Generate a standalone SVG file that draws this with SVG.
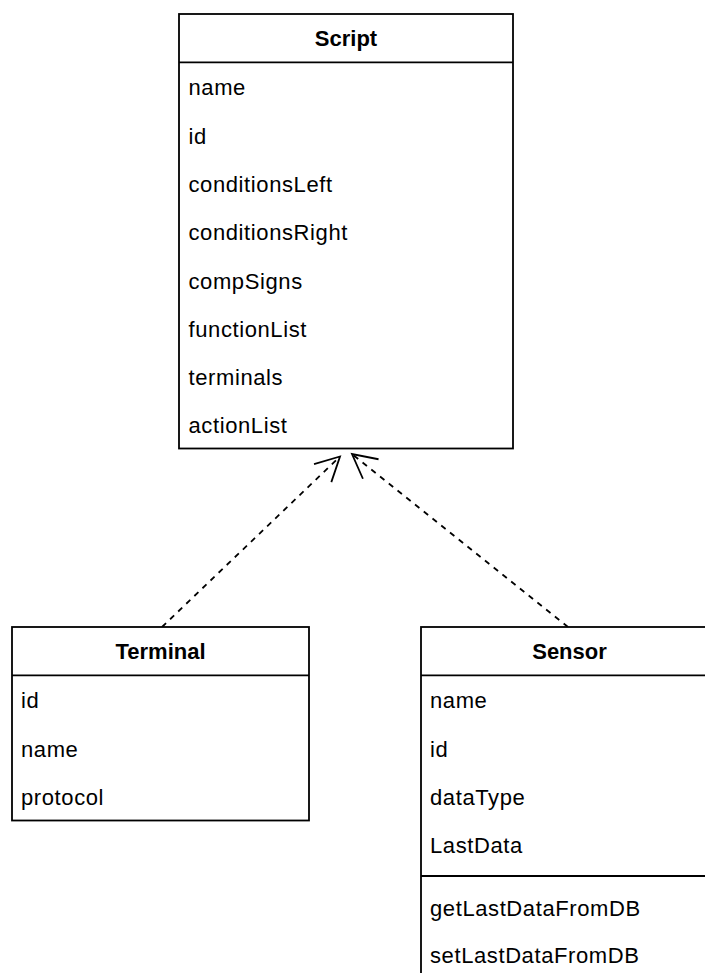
<svg xmlns="http://www.w3.org/2000/svg" width="705" height="973" viewBox="0 0 705 973">
  <style>
    .box { fill: #ffffff; stroke: #000000; stroke-width: 1.8; }
    .sep { stroke: #000000; stroke-width: 1.8; fill: none; }
    .title { font-family: "Liberation Sans", Arial, sans-serif; font-size: 22px; font-weight: bold; fill: #000000; text-anchor: middle; }
    .attr { font-family: "Liberation Sans", Arial, sans-serif; font-size: 22px; letter-spacing: 0.6px; fill: #000000; }
    .dep { fill: none; stroke: #000000; stroke-width: 1.8; stroke-dasharray: 5.6 5.6; marker-end: url(#open); }
  </style>
  <defs>
    <marker id="open" markerUnits="userSpaceOnUse" orient="auto" markerWidth="40" markerHeight="40" refX="0" refY="0" viewBox="-30 -20 40 40" overflow="visible">
      <path d="M -24,-12.5 L 0,0 L -24,12.5" fill="none" stroke="#000000" stroke-width="1.8" stroke-dasharray="none"/>
    </marker>
  </defs>

  <!-- dependency connectors -->
  <g id="connectors">
    <path class="dep" d="M 162,627 L 340,456.5"/>
    <path class="dep" d="M 568,627 L 352,454"/>
  </g>

  <!-- Script class -->
  <g id="script">
    <rect class="box" x="179" y="14" width="334" height="434.5"/>
    <line class="sep" x1="179" y1="62.3" x2="513" y2="62.3"/>
    <text class="title" x="346" y="46">Script</text>
    <text class="attr" x="188.5" y="95.3">name</text>
    <text class="attr" x="188.5" y="143.6">id</text>
    <text class="attr" x="188.5" y="191.9">conditionsLeft</text>
    <text class="attr" x="188.5" y="240.2">conditionsRight</text>
    <text class="attr" x="188.5" y="288.5">compSigns</text>
    <text class="attr" x="188.5" y="336.8">functionList</text>
    <text class="attr" x="188.5" y="385.1">terminals</text>
    <text class="attr" x="188.5" y="433.4">actionList</text>
  </g>

  <!-- Terminal class -->
  <g id="terminal">
    <rect class="box" x="12" y="627" width="297" height="193.5"/>
    <line class="sep" x1="12" y1="675.3" x2="309" y2="675.3"/>
    <text class="title" x="160.5" y="659">Terminal</text>
    <text class="attr" x="21" y="708.3">id</text>
    <text class="attr" x="21" y="756.6">name</text>
    <text class="attr" x="21" y="804.9">protocol</text>
  </g>

  <!-- Sensor class -->
  <g id="sensor">
    <rect class="box" x="421" y="627" width="297" height="360"/>
    <line class="sep" x1="421" y1="675.3" x2="718" y2="675.3"/>
    <line class="sep" x1="421" y1="876" x2="718" y2="876"/>
    <text class="title" x="569.5" y="659">Sensor</text>
    <text class="attr" x="430" y="708.3">name</text>
    <text class="attr" x="430" y="756.6">id</text>
    <text class="attr" x="430" y="804.9">dataType</text>
    <text class="attr" x="430" y="853.2">LastData</text>
    <text class="attr" x="430" y="915.5">getLastDataFromDB</text>
    <text class="attr" x="430" y="963">setLastDataFromDB</text>
  </g>
</svg>
